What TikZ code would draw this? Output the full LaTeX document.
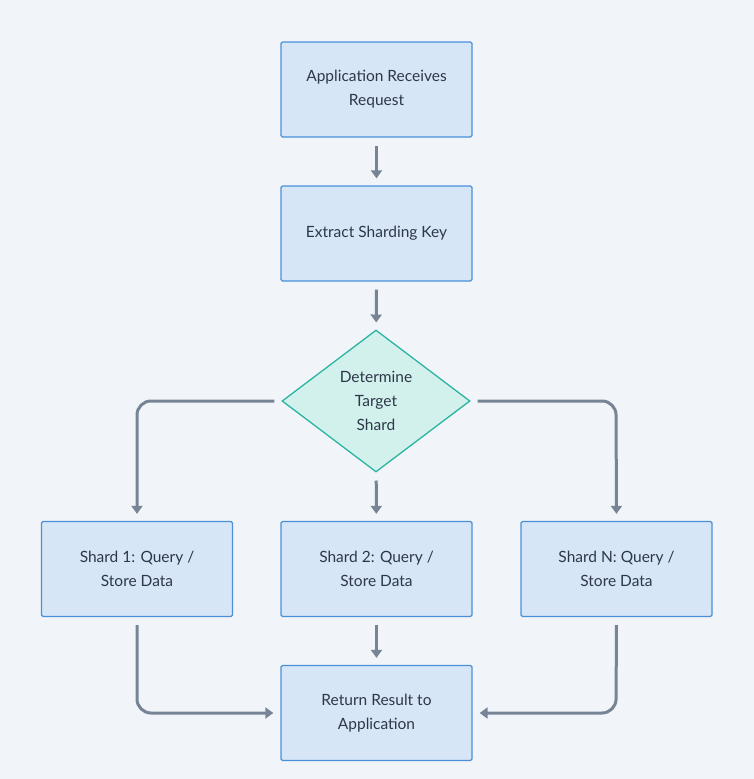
\documentclass[tikz,border=0pt]{standalone}
\usepackage{fontspec}
\setmainfont{Lato}
\usetikzlibrary{arrows.meta,shapes.geometric}
\definecolor{bg}{HTML}{F1F5F9}
\definecolor{boxfill}{HTML}{D6E6F6}
\definecolor{boxline}{HTML}{4A90D9}
\definecolor{dfill}{HTML}{D2F0EC}
\definecolor{dline}{HTML}{2BB5A0}
\definecolor{arr}{HTML}{768496}
\definecolor{txt}{HTML}{2D3748}
\begin{document}
\begin{tikzpicture}[x=1pt,y=-1pt,
  box/.style={draw=boxline,fill=boxfill,line width=1.3pt,rounded corners=1.5pt,minimum width=191pt,minimum height=95pt,align=center,text=txt,font=\fontsize{15.5}{24}\selectfont,inner sep=0pt},
  dia/.style={draw=dline,fill=dfill,line width=1.3pt,diamond,minimum width=188pt,minimum height=142pt,align=center,text=txt,font=\fontsize{15.5}{24}\selectfont,inner sep=0pt},
  con/.style={draw=arr,line width=3pt,rounded corners=14pt,-{Triangle[length=8pt,width=11pt]}}]
\fill[bg] (0,0) rectangle (754,779);
\node[box] (a) at (376.5,89.5) {Application Receives\\Request};
\node[box] (b) at (376.5,233.5) {Extract Sharding Key};
\node[dia] (d) at (376,401) {Determine\\Target\\ Shard};
\node[box] (s1) at (137,569) {Shard 1: Query /\\Store Data};
\node[box] (s2) at (376.5,569) {Shard 2: Query /\\Store Data};
\node[box] (sn) at (616.5,569) {Shard N: Query /\\Store Data};
\node[box] (r) at (376.5,713) {Return Result to\\Application};
\coordinate (l1) at (137,401);
\coordinate (ln) at (616,401);
\coordinate (b1) at (137,713);
\coordinate (bn) at (616,713);
\draw[con,shorten <=8pt,shorten >=7pt] (a) -- (b);
\draw[con,shorten <=8pt,shorten >=7pt] (b) -- (d);
\draw[con,shorten <=8pt,shorten >=7pt] (d) -- (s2);
\draw[con,shorten <=8pt,shorten >=7pt] (s2) -- (r);
\draw[con,shorten <=7pt,shorten >=7pt] (d.west) -- (l1) -- (s1.north);
\draw[con,shorten <=7pt,shorten >=7pt] (d.east) -- (ln) -- (sn.north);
\draw[con,shorten <=8pt,shorten >=7pt] (s1.south) -- (b1) -- (r.west);
\draw[con,shorten <=8pt,shorten >=7pt] (sn.south) -- (bn) -- (r.east);
\end{tikzpicture}
\end{document}
